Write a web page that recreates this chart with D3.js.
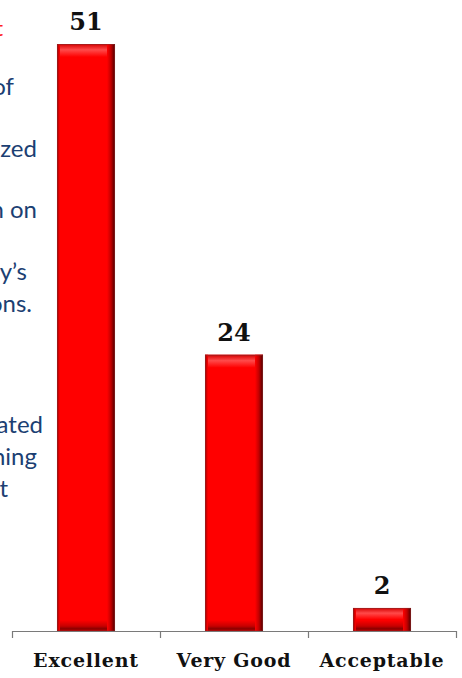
<!DOCTYPE html>
<html>
<head>
<meta charset="utf-8">
<script src="https://cdn.jsdelivr.net/npm/d3@7"></script>
<style>
  html, body { margin: 0; padding: 0; background: #ffffff; }
  svg { display: block; }
</style>
</head>
<body>
<div id="chart"></div>
<script>
// chart data
const categories = ['Excellent', 'Very Good', 'Acceptable'];
const counts = [51, 24, 2];

// slide text that runs off the left edge (only the word endings show)
const sideLines = ['of', 'organized', 'taken on', 'Society\u2019s', 'regulations.', 'evaluated', 'teaching', 'that'];

const width = 462, height = 678;
const margin = {top: 44, right: 6, bottom: 47, left: 12};

const svg = d3.select('#chart').append('svg')
    .attr('width', width)
    .attr('height', height);

const defs = svg.append('defs');

// gradients for the bevelled bar look
function grad(id, x2, y2, stops) {
    let g = defs.append('linearGradient')
        .attr('id', id)
        .attr('x1', 0).attr('y1', 0)
        .attr('x2', x2).attr('y2', y2);
    stops.forEach(s => g.append('stop')
        .attr('offset', s[0])
        .attr('stop-color', s[1]));
}
grad('gRight', 1, 0, [[0, '#ff0000'], [0.5, '#c00000'], [1, '#4a0000']]);
grad('gLeft', 1, 0, [[0, '#a00000'], [1, '#ff0000']]);
grad('gTop', 0, 1, [[0, '#d40000'], [0.45, '#ff4a4a'], [1, '#ff0000']]);
grad('gBottom', 0, 1, [[0, '#ff0000'], [0.55, '#c80000'], [0.8, '#8a0000'], [1, '#c00000']]);

// scales
const x = d3.scaleBand()
    .domain(categories)
    .range([margin.left, width - margin.right])
    .paddingInner(0.608)
    .paddingOuter(0.304);

const y = d3.scaleLinear()
    .domain([0, d3.max(counts)])
    .range([height - margin.bottom, margin.top]);

const baseY = y(0);

// side text fragments, right-aligned so they clip at the left edge
const sideX = [14, 37, 37, 27, 32, 43, 37, 8];
const sideY = [95, 157, 218, 280, 312, 433, 465, 497];
svg.append('g')
    .selectAll('text')
    .data(sideLines)
    .join('text')
    .attr('x', (d, i) => sideX[i])
    .attr('y', (d, i) => sideY[i])
    .attr('text-anchor', 'end')
    .style('font-family', 'Lato, "Open Sans", sans-serif')
    .style('font-size', '24px')
    .style('fill', '#1c3f73')
    .text(d => d);

svg.append('text')
    .attr('x', 3)
    .attr('y', 36)
    .attr('text-anchor', 'end')
    .style('font-family', 'Lato, sans-serif')
    .style('font-size', '21px')
    .style('fill', '#ff2020')
    .text('t');

// bars
const bars = svg.append('g')
    .selectAll('g')
    .data(counts)
    .join('g')
    .attr('transform', (d, i) => `translate(${x(categories[i])},${y(d)})`);

const bw = x.bandwidth();

bars.append('rect')
    .attr('width', bw)
    .attr('height', d => baseY - y(d))
    .style('fill', '#ff0000');

// top bevel
bars.append('rect')
    .attr('width', bw)
    .attr('height', d => Math.min(13, (baseY - y(d)) / 2))
    .style('fill', 'url(#gTop)');

// bottom bevel
bars.append('rect')
    .attr('y', d => (baseY - y(d)) - Math.min(11, (baseY - y(d)) / 2))
    .attr('width', bw)
    .attr('height', d => Math.min(11, (baseY - y(d)) / 2))
    .style('fill', 'url(#gBottom)');

// left bevel
bars.append('rect')
    .attr('width', 3)
    .attr('height', d => baseY - y(d))
    .style('fill', 'url(#gLeft)');

// right bevel
bars.append('rect')
    .attr('x', bw - 8)
    .attr('width', 8)
    .attr('height', d => baseY - y(d))
    .style('fill', 'url(#gRight)');

// thin outline
bars.append('rect')
    .attr('x', 0.5)
    .attr('y', 0.5)
    .attr('width', bw - 1)
    .attr('height', d => baseY - y(d) - 0.5)
    .style('fill', 'none')
    .style('stroke', '#8c2a2a')
    .style('stroke-opacity', 0.6)
    .style('stroke-width', 1);

// value labels
svg.append('g')
    .selectAll('text')
    .data(counts)
    .join('text')
    .attr('x', (d, i) => x(categories[i]) + bw / 2)
    .attr('y', d => y(d) - 14)
    .attr('text-anchor', 'middle')
    .style('font-family', '"DejaVu Serif", serif')
    .style('font-weight', 'bold')
    .style('font-size', '24px')
    .style('fill', '#111')
    .text(d => d);

// category axis
const axis = svg.append('g');
const gap = (x.step() - bw) / 2;
const edges = categories.map(c => x(c) - gap).concat([x.range()[1]]);

axis.append('line')
    .attr('x1', x.range()[0])
    .attr('x2', x.range()[1])
    .attr('y1', baseY + 0.5)
    .attr('y2', baseY + 0.5)
    .style('stroke', '#7a7a7a')
    .style('stroke-width', 1.2);

axis.selectAll('.tick')
    .data(edges)
    .join('line')
    .attr('class', 'tick')
    .attr('x1', d => Math.round(d) + 0.5)
    .attr('x2', d => Math.round(d) + 0.5)
    .attr('y1', baseY)
    .attr('y2', baseY + 7)
    .style('stroke', '#7a7a7a')
    .style('stroke-width', 1.2);

axis.selectAll('.lab')
    .data(categories)
    .join('text')
    .attr('class', 'lab')
    .attr('x', d => x(d) + bw / 2)
    .attr('y', baseY + 36)
    .attr('text-anchor', 'middle')
    .style('font-family', '"DejaVu Serif", serif')
    .style('font-weight', 'bold')
    .style('font-size', '19px')
    .style('letter-spacing', '0.8px')
    .style('fill', '#111')
    .text(d => d);
</script>
</body>
</html>
